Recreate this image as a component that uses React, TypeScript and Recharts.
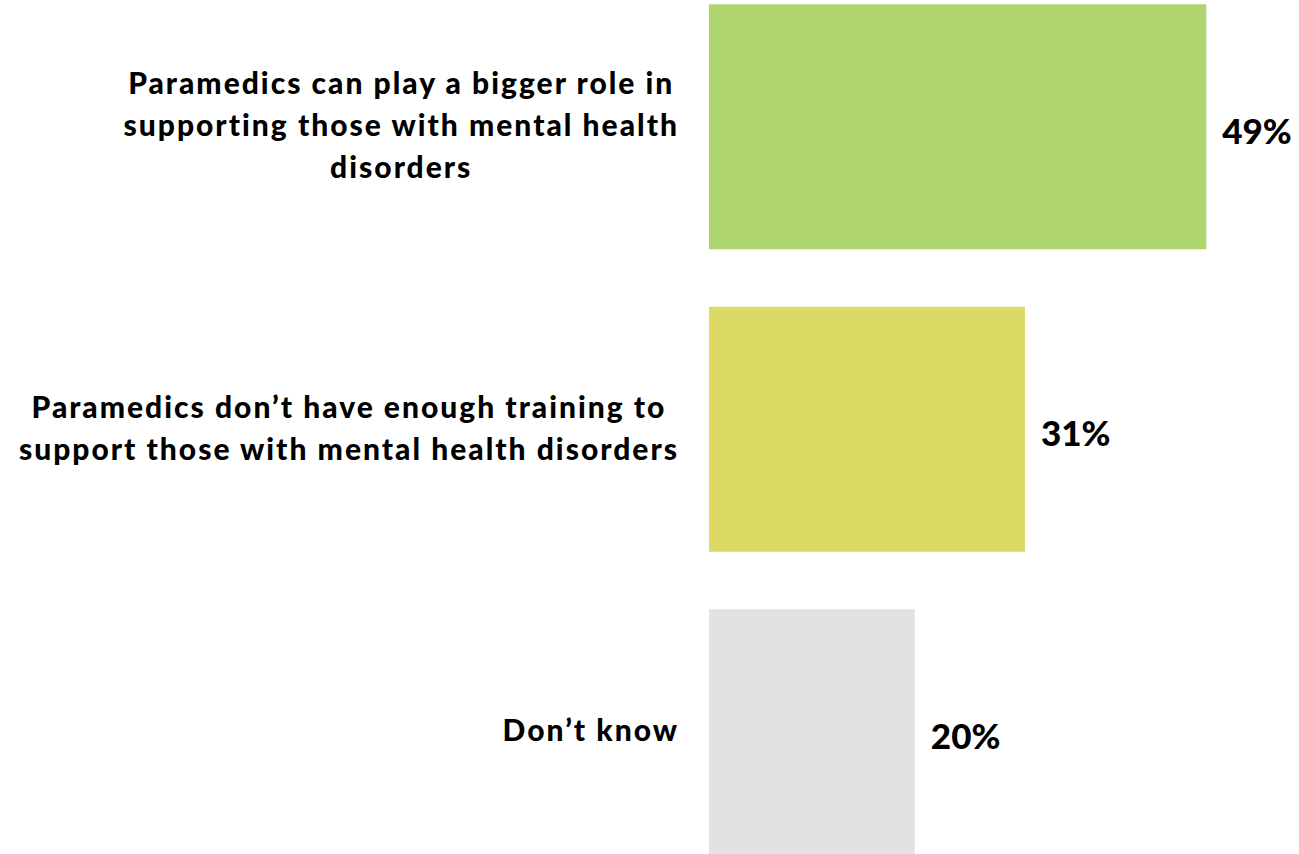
import React from "react";
import { BarChart, Bar, XAxis, YAxis, Cell, LabelList } from "recharts";

const categories = [
  "Paramedics can play a bigger role in|supporting those with mental health|disorders",
  "Paramedics don’t have enough training to|support those with mental health disorders",
  "Don’t know",
];
const values = [48.8, 31.0, 20.2];
const valueLabels = ["49%", "31%", "20%"];
const colors = ["#b0d46e", "#dcd964", "#e1e3e0"];

const data = categories.map((c, i) => ({ name: c, value: values[i], label: valueLabels[i] }));

const FONT = "Lato, 'Open Sans', sans-serif";
const TICK_SIZE = 30;
const TICK_WEIGHT = 900;
const TICK_SPACING = 2;
const LINE_H = 42;

function measure(text: string): number {
  const ns = "http://www.w3.org/2000/svg";
  const svg = document.createElementNS(ns, "svg");
  svg.setAttribute("style", "position:absolute;left:-9999px;top:-9999px");
  const t = document.createElementNS(ns, "text");
  t.setAttribute("font-family", FONT);
  t.setAttribute("font-weight", String(TICK_WEIGHT));
  t.setAttribute("font-size", String(TICK_SIZE));
  t.setAttribute("letter-spacing", String(TICK_SPACING));
  t.textContent = text;
  svg.appendChild(t);
  document.body.appendChild(svg);
  const w = t.getComputedTextLength();
  document.body.removeChild(svg);
  return w;
}

const CategoryTick = (props: any) => {
  const { x, y, payload } = props;
  const lines: string[] = String(payload.value).split("|");
  const maxW = Math.max(...lines.map((l) => measure(l)));
  const cx = x - maxW / 2;
  const startY = y - 2.5 - ((lines.length - 1) * LINE_H) / 2;
  return (
    <g>
      {lines.map((l, i) => (
        <text
          key={i}
          x={cx}
          y={startY + i * LINE_H}
          textAnchor="middle"
          dominantBaseline="central"
          fontFamily={FONT}
          fontWeight={TICK_WEIGHT}
          fontSize={TICK_SIZE}
          letterSpacing={TICK_SPACING}
          fill="#000"
        >
          {l}
        </text>
      ))}
    </g>
  );
};

const ValueLabel = (props: any) => {
  const { x, y, width, height, value } = props;
  return (
    <text
      x={x + width + 16}
      y={y + height / 2 + 3}
      textAnchor="start"
      dominantBaseline="central"
      fontFamily={FONT}
      fontWeight={900}
      fontSize={35}
      fill="#000"
    >
      {value}
    </text>
  );
};

export default function App() {
  return (
    <div style={{ position: "absolute", left: 0, top: 0, width: 1299, height: 854, background: "#fff" }}>
      <BarChart
        width={1299}
        height={854}
        data={data}
        layout="vertical"
        margin={{ top: -24.75, right: 80.5, bottom: -28.75, left: 0 }}
        barCategoryGap={57.5 / 2}
      >
        <XAxis type="number" domain={[0, 50]} hide />
        <YAxis
          type="category"
          dataKey="name"
          width={709}
          axisLine={false}
          tickLine={false}
          tick={<CategoryTick />}
          tickMargin={24}
          interval={0}
        />
        <Bar dataKey="value" isAnimationActive={false} barSize={245}>
          {data.map((d, i) => (
            <Cell key={i} fill={colors[i]} />
          ))}
          <LabelList dataKey="label" content={<ValueLabel />} />
        </Bar>
      </BarChart>
    </div>
  );
}
